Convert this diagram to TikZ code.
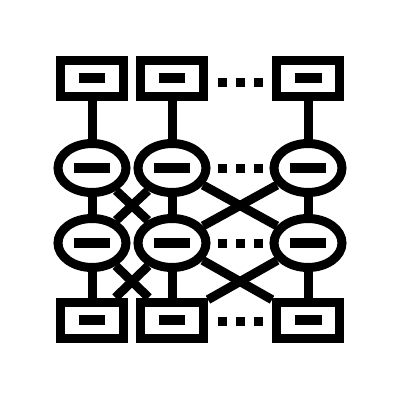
\documentclass[tikz,border=0pt]{standalone}
\usetikzlibrary{shapes.geometric}
\begin{document}
\begin{tikzpicture}[x=1pt,y=-1pt,line width=9pt,
  box/.style={rectangle,draw,fill=white,minimum width=63pt,minimum height=36pt,inner sep=0pt},
  unit/.style={ellipse,draw,fill=white,minimum width=68pt,minimum height=49pt,inner sep=0pt},
  dot/.style={rectangle,fill,minimum size=9pt,inner sep=0pt}]
\useasboundingbox (0,0) rectangle (400,400);
\node[box] (t1) at (92,78) {\rule{27pt}{10pt}};
\node[box] (t2) at (172,78) {\rule{27pt}{10pt}};
\node[box] (t3) at (308,78) {\rule{27pt}{10pt}};
\node[unit] (a1) at (92,168) {\rule{36pt}{10pt}};
\node[unit] (a2) at (172,168) {\rule{36pt}{10pt}};
\node[unit] (a3) at (308,168) {\rule{36pt}{10pt}};
\node[unit] (b1) at (92,243) {\rule{36pt}{10pt}};
\node[unit] (b2) at (172,243) {\rule{36pt}{10pt}};
\node[unit] (b3) at (308,243) {\rule{36pt}{10pt}};
\node[box] (s1) at (92,320) {\rule{27pt}{10pt}};
\node[box] (s2) at (172,320) {\rule{27pt}{10pt}};
\node[box] (s3) at (308,320) {\rule{27pt}{10pt}};
\node[dot] (d1) at (222,82) {};
\node[dot] (d2) at (240,82) {};
\node[dot] (d3) at (258,82) {};
\node[dot] (d4) at (222,168) {};
\node[dot] (d5) at (240,168) {};
\node[dot] (d6) at (258,168) {};
\node[dot] (d7) at (222,243) {};
\node[dot] (d8) at (240,243) {};
\node[dot] (d9) at (258,243) {};
\node[dot] (d10) at (222,321) {};
\node[dot] (d11) at (240,321) {};
\node[dot] (d12) at (258,321) {};
\draw  (t1) edge (a1);
\draw  (t2) edge (a2);
\draw  (t3) edge (a3);
\draw  (a1) edge (b1);
\draw  (a2) edge (b2);
\draw  (a3) edge (b3);
\draw  (b1) edge (s1);
\draw  (b2) edge (s2);
\draw  (b3) edge (s3);
\draw  (a1) edge (b2);
\draw  (a2) edge (b1);
\draw  (a2) edge (b3);
\draw  (a3) edge (b2);
\draw  (b1) edge (s2);
\draw  (b2) edge (s1);
\draw  (b2) edge (s3);
\draw  (b3) edge (s2);
\end{tikzpicture}
\end{document}
